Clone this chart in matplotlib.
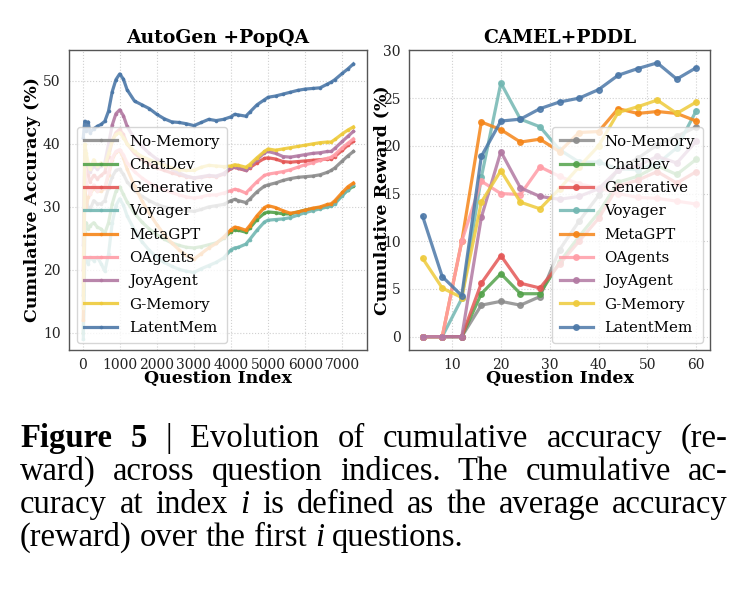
import matplotlib
matplotlib.use("Agg")
import matplotlib.pyplot as plt

# ---------------- data ----------------
methods = ["No-Memory", "ChatDev", "Generative", "Voyager", "MetaGPT",
           "OAgents", "JoyAgent", "G-Memory", "LatentMem"]
colors = ["#8c8c8c", "#54a24b", "#e45756", "#72b7b2", "#f58518",
          "#ff9da7", "#b279a2", "#eeca3b", "#4c78a8"]

# AutoGen + PopQA (cumulative accuracy, %)
popqa_index = [20, 60, 100, 150, 200, 300, 400, 500, 600, 700, 800, 900, 1000, 1100, 1200,
               1400, 1600, 1800, 2000, 2200, 2400, 2600, 2800, 3000, 3200, 3400, 3600, 3800,
               4000, 4100, 4200, 4400, 4500, 4700, 4900, 5000, 5200, 5400, 5600, 5800, 6000,
               6200, 6400, 6600, 6700, 6800, 7000, 7150, 7300]
popqa_no_memory = [16.0, 32.0, 31.0, 30.0, 29.5, 31.0, 30.5, 30.5, 31.0, 33.0, 34.8, 35.8, 36.0, 35.2, 34.0,
                   32.6, 31.7, 31.0, 30.4, 30.0, 29.8, 29.6, 29.4, 29.3, 29.6, 30.0, 30.2, 30.4,
                   31.0, 31.2, 31.0, 30.7, 31.2, 32.4, 33.3, 33.5, 33.8, 34.2, 34.5, 34.7, 34.8,
                   34.9, 35.1, 35.5, 35.8, 36.2, 37.3, 38.1, 38.8]
popqa_chatdev = [10.0, 26.0, 27.5, 26.5, 27.0, 27.5, 26.8, 26.5, 25.8, 27.5, 30.5, 32.5, 33.2, 32.0, 30.8,
                 29.0, 27.6, 26.5, 25.6, 24.9, 24.3, 23.9, 23.6, 23.5, 23.7, 24.0, 24.3, 25.0,
                 26.1, 26.4, 26.3, 26.0, 26.6, 28.0, 29.0, 29.2, 29.1, 28.9, 28.9, 29.2, 29.5,
                 29.7, 29.9, 30.1, 30.3, 30.7, 31.9, 32.7, 33.3]
popqa_generative = [20.0, 38.0, 36.0, 35.0, 34.0, 35.0, 34.5, 35.0, 35.5, 38.0, 40.5, 41.8, 42.3, 41.5, 40.0,
                    38.5, 37.6, 36.8, 36.2, 35.8, 35.4, 35.1, 34.8, 34.6, 34.7, 34.9, 34.8, 35.2,
                    36.1, 36.3, 36.1, 35.8, 36.2, 37.0, 37.7, 37.8, 37.6, 37.2, 37.1, 37.2, 37.3,
                    37.4, 37.5, 37.6, 37.6, 38.0, 39.0, 39.8, 40.4]
popqa_voyager = [9.0, 22.0, 21.5, 21.0, 22.0, 21.5, 22.0, 21.0, 19.8, 22.5, 27.5, 30.2, 31.3, 30.3, 28.6,
                 26.3, 24.5, 23.1, 22.0, 21.2, 20.6, 20.1, 19.8, 19.6, 20.2, 20.7, 21.2, 21.9,
                 23.2, 23.5, 23.6, 24.1, 24.8, 26.3, 27.6, 27.9, 28.0, 28.1, 28.3, 28.7, 29.1,
                 29.4, 29.7, 30.0, 30.1, 30.5, 31.8, 32.7, 33.5]
popqa_metagpt = [12.0, 33.0, 30.0, 31.5, 32.0, 33.0, 32.5, 32.5, 33.0, 35.0, 37.5, 38.7, 39.0, 37.8, 36.0,
                 33.3, 31.0, 29.0, 27.2, 25.6, 24.3, 23.2, 22.3, 21.7, 22.6, 23.5, 24.2, 25.2,
                 26.4, 26.8, 26.7, 26.3, 27.0, 28.6, 29.9, 30.2, 29.9, 29.4, 29.0, 29.2, 29.5,
                 29.8, 30.0, 30.4, 30.5, 31.0, 32.3, 33.2, 33.8]
popqa_oagents = [18.0, 36.0, 34.0, 33.0, 32.0, 33.5, 32.5, 33.0, 33.0, 35.5, 37.8, 38.8, 39.1, 38.3, 37.0,
                 35.6, 34.6, 33.8, 33.2, 32.7, 32.3, 31.9, 31.6, 31.4, 31.6, 31.9, 31.9, 32.2,
                 32.6, 32.8, 32.7, 32.2, 32.8, 34.0, 35.0, 35.2, 35.4, 35.6, 35.9, 36.3, 36.7,
                 37.0, 37.4, 37.7, 37.9, 38.3, 39.4, 40.1, 40.8]
popqa_joyagent = [24.0, 39.0, 37.5, 36.5, 35.5, 36.5, 36.0, 36.5, 37.0, 40.0, 43.0, 44.8, 45.4, 44.5, 42.8,
                  40.8, 39.6, 38.5, 37.6, 36.8, 36.0, 35.4, 34.9, 34.6, 34.8, 35.0, 34.9, 35.3,
                  36.2, 36.4, 36.2, 35.8, 36.3, 37.5, 38.6, 38.8, 38.5, 38.0, 37.9, 38.1, 38.3,
                  38.5, 38.6, 38.8, 38.8, 39.3, 40.4, 41.2, 42.0]
popqa_gmemory = [14.0, 40.0, 38.5, 37.0, 36.0, 37.5, 36.5, 37.0, 36.5, 38.5, 40.5, 41.5, 41.8, 41.0, 40.0,
                 38.8, 38.0, 37.5, 37.0, 36.6, 36.2, 35.9, 35.8, 35.8, 36.3, 36.6, 36.5, 36.4,
                 36.5, 36.7, 36.6, 36.3, 36.7, 37.8, 38.8, 39.2, 39.0, 39.2, 39.4, 39.6, 39.8,
                 40.0, 40.2, 40.3, 40.3, 40.7, 41.6, 42.2, 42.7]
popqa_latentmem = [41.0, 43.6, 42.0, 43.5, 41.8, 42.4, 42.8, 43.1, 43.6, 45.2, 48.3, 50.2, 51.1, 50.3, 48.6,
                   46.8, 46.2, 45.6, 44.7, 44.0, 43.5, 43.4, 43.2, 42.9, 43.4, 43.9, 43.7, 43.9,
                   44.3, 44.7, 44.6, 44.4, 45.0, 46.2, 47.0, 47.4, 47.6, 47.9, 48.2, 48.5, 48.7,
                   48.8, 48.9, 49.5, 49.8, 50.2, 51.2, 51.9, 52.7]

# CAMEL + PDDL (cumulative reward, %)
pddl_index = [4, 8, 12, 16, 20, 24, 28, 32, 36, 40, 44, 48, 52, 56, 60]
pddl_no_memory = [0, 0, 0, 3.3, 3.7, 3.3, 4.2, 9.1, 12.1, 14.8, 17.5, 18.7, 20.1, 21.0, 22.0]
pddl_chatdev = [0, 0, 0, 4.5, 6.6, 4.5, 4.5, 7.8, 10.5, 13.0, 16.2, 16.8, 17.9, 17.0, 18.6]
pddl_generative = [0, 0, 0, 5.6, 8.5, 5.6, 5.1, 7.6, 10.0, 12.4, 15.8, 16.4, 17.3, 16.1, 17.3]
pddl_voyager = [0, 0, 4.0, 16.7, 26.6, 22.8, 22.0, 19.6, 18.3, 18.3, 17.6, 17.5, 18.1, 19.8, 23.7]
pddl_metagpt = [0, 0, 10.0, 22.5, 21.7, 20.4, 20.7, 19.4, 21.4, 21.5, 23.9, 23.4, 23.6, 23.4, 22.6]
pddl_oagents = [0, 0, 10.0, 16.3, 15.0, 14.9, 17.8, 16.8, 16.0, 15.6, 15.0, 14.6, 14.5, 14.2, 13.9]
pddl_joyagent = [0, 0, 0, 12.5, 19.4, 15.6, 14.7, 14.4, 14.7, 15.5, 17.5, 17.9, 18.9, 18.2, 20.5]
pddl_gmemory = [8.2, 5.1, 4.1, 14.1, 17.4, 14.1, 13.4, 15.5, 17.8, 20.0, 23.5, 24.1, 24.8, 23.4, 24.6]
pddl_latentmem = [12.6, 6.3, 4.3, 18.9, 22.6, 22.8, 23.9, 24.6, 25.0, 25.9, 27.4, 28.1, 28.7, 27.0, 28.2]

popqa_series = [popqa_no_memory, popqa_chatdev, popqa_generative, popqa_voyager, popqa_metagpt,
                popqa_oagents, popqa_joyagent, popqa_gmemory, popqa_latentmem]
pddl_series = [pddl_no_memory, pddl_chatdev, pddl_generative, pddl_voyager, pddl_metagpt,
               pddl_oagents, pddl_joyagent, pddl_gmemory, pddl_latentmem]

popqa_yticks = [10, 20, 30, 40, 50]
popqa_xticks = [0, 1000, 2000, 3000, 4000, 5000, 6000, 7000]
pddl_yticks = [0, 5, 10, 15, 20, 25, 30]
pddl_xticks = [10, 20, 30, 40, 50, 60]

caption_lines = [
    [("Figure", "bold"), ("5", "bold"), ("|", "normal"), ("Evolution", "normal"), ("of", "normal"),
     ("cumulative", "normal"), ("accuracy", "normal"), ("(re-", "normal")],
    [(w, "normal") for w in "ward) across question indices. The cumulative ac-".split()],
    [(w, "normal") for w in "curacy at index".split()] + [("i", "italic")] +
    [(w, "normal") for w in "is defined as the average accuracy".split()],
    [(w, "normal") for w in "(reward) over the first".split()] + [("i", "italic")] + [("questions.", "normal")],
]

# ---------------- style ----------------
plt.rcParams["font.family"] = ["DejaVu Serif"]
W, H = 744, 592
fig = plt.figure(figsize=(W / 100, H / 100), dpi=100)

ax1 = fig.add_axes([69 / W, 1 - 350 / H, 298 / W, 300 / H])
ax2 = fig.add_axes([409 / W, 1 - 350 / H, 301 / W, 300 / H])


def style_axes(ax):
    ax.set_facecolor("white")
    ax.grid(True, linestyle=":", color="#d0d0d0", linewidth=0.8)
    ax.set_axisbelow(True)
    for s in ax.spines.values():
        s.set_color("#555555")
        s.set_linewidth(1.0)
    ax.tick_params(length=0, labelsize=10, pad=6, colors="#222222")


for name, col, ys in zip(methods, colors, popqa_series):
    ax1.plot(popqa_index, ys, color=col, lw=2.3, marker="o", markersize=1.6,
             alpha=0.9, label=name)
for name, col, ys in zip(methods, colors, pddl_series):
    ax2.plot(pddl_index, ys, color=col, lw=2.3, marker="o", markersize=4,
             alpha=0.85, label=name)

style_axes(ax1)
style_axes(ax2)

ax1.set_xlim(-365, 7665)
ax1.set_ylim(7.3, 54.9)
ax1.set_xticks(popqa_xticks)
ax1.set_yticks(popqa_yticks)
ax2.set_xlim(1.2, 62.8)
ax2.set_ylim(-1.4, 30.05)
ax2.set_xticks(pddl_xticks)
ax2.set_yticks(pddl_yticks)

ax1.set_title("AutoGen +PopQA", fontsize=13.5, fontweight="bold", pad=5)
ax2.set_title("CAMEL+PDDL", fontsize=13.5, fontweight="bold", pad=5)
for ax, yl in ((ax1, "Cumulative Accuracy (%)"), (ax2, "Cumulative Reward (%)")):
    ax.set_xlabel("Question Index", fontsize=12.5, fontweight="bold")
    ax.set_ylabel(yl, fontsize=12.5, fontweight="bold")
ax1.xaxis.set_label_coords(0.5, -0.065)
ax2.xaxis.set_label_coords(0.5, -0.065)
ax1.yaxis.set_label_coords(-0.095, 0.5)
ax2.yaxis.set_label_coords(-0.062, 0.5)

leg_kw = dict(fontsize=10.8, framealpha=0.8, edgecolor="#cccccc", fancybox=True,
              handlelength=2.2, labelspacing=0.62, borderpad=0.5)
ax1.legend(loc="lower left", **leg_kw)
ax2.legend(loc="lower right", **leg_kw)

# ---------------- caption (justified) ----------------
renderer = fig.canvas.get_renderer()
x_left, x_right = 20, 728
baselines = [447, 480, 513, 546]
cap_kw = dict(fontsize=23.5, family=["Liberation Serif"], va="baseline", ha="left")

sp = fig.text(0, 0, "a a", **cap_kw)
sp2 = fig.text(0, 0, "aa", **cap_kw)
space_w = sp.get_window_extent(renderer).width - sp2.get_window_extent(renderer).width
sp.remove()
sp2.remove()

for li, (line, yb) in enumerate(zip(caption_lines, baselines)):
    texts = []
    for word, st in line:
        kw = dict(cap_kw)
        if st == "bold":
            kw["fontweight"] = "bold"
        elif st == "italic":
            kw["fontstyle"] = "italic"
        t = fig.text(0, 1 - yb / H, word, **kw)
        texts.append(t)
    widths = [t.get_window_extent(renderer).width for t in texts]
    if li < len(caption_lines) - 1:
        gap = (x_right - x_left - sum(widths)) / (len(texts) - 1)
    else:
        gap = space_w
    x = x_left
    for t, w in zip(texts, widths):
        t.set_x(x / W)
        x += w + gap

fig.savefig("out.png", dpi=100, facecolor="white")
